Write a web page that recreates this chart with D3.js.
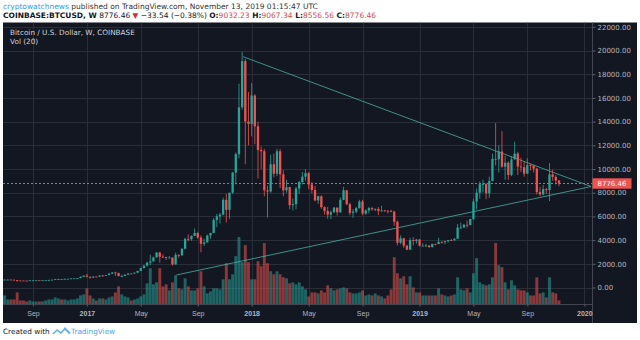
<!DOCTYPE html>
<html><head><meta charset="utf-8">
<script src="https://cdn.jsdelivr.net/npm/d3@7"></script>
<style>
html,body{margin:0;padding:0;background:#ffffff;}
svg{display:block;font-family:"DejaVu Sans",sans-serif;}
</style>
</head><body>
<svg id="chart" width="640" height="340"></svg>
<script>
// ---------- DATA (weekly candles: [open, high, low, close, volume (K BTC)]) ----------
const firstWeek = "2016-07-04";
const lastWeek  = "2019-11-11";

const candles2016 = [
 [650,680,630,660,45],[660,685,645,665,25],[665,680,650,655,25],[655,660,620,625,25],
 [625,630,480,590,60],[590,600,575,585,20],[585,590,565,580,20],[580,585,565,573,15],
 [573,610,565,605,20],[605,630,600,608,15],[608,612,600,610,15],[610,612,590,600,15],
 [600,620,598,612,15],[612,620,605,617,20],[617,645,612,640,25],[640,660,628,655,25],
 [655,705,650,700,35],[700,745,690,705,30],[705,720,690,700,25],[700,755,695,730,25],
 [730,745,725,735,20],[735,770,730,765,25],[765,775,755,775,25],[775,795,770,790,30],
 [790,935,790,900,45],[900,1000,880,1000,50]
];
const candles2017 = [
 [1000,1150,850,910,80],[910,915,750,830,45],[830,930,830,920,30],[920,925,880,915,20],
 [915,1040,915,1010,30],[1010,1065,920,1000,30],[1000,1060,990,1050,25],[1050,1195,1050,1170,35],
 [1170,1290,1130,1270,40],[1270,1330,975,1230,60],[1230,1240,940,965,90],[965,1080,890,970,50],
 [970,1100,960,1080,40],[1080,1200,1070,1180,35],[1180,1210,1160,1175,20],[1175,1260,1170,1250,25],
 [1250,1400,1240,1400,30],[1400,1660,1400,1650,40],[1650,1860,1600,1850,50],[1850,2170,1770,2100,105],
 [2100,2790,1900,2200,180],[2200,2600,2200,2540,100],[2540,2980,2530,2950,110],[2950,3000,2100,2600,180],
 [2600,2800,2500,2560,90],[2560,2600,2320,2500,100],[2500,2660,2500,2520,70],[2520,2550,1840,1950,110],
 [1950,2930,1930,2750,145],[2750,2800,2500,2730,80],[2730,3300,2650,3270,75],[3270,4200,3270,4100,130],
 [4100,4480,3900,4080,90],[4080,4380,3950,4360,70],[4360,4980,4330,4600,70],[4600,4700,4100,4220,80],
 [4220,4400,2970,3690,165],[3690,4120,3500,3800,90],[3800,4460,3800,4390,55],[4390,4620,4120,4600,65],
 [4600,5850,4600,5700,80],[5700,6200,5100,6000,80],[6000,6300,5400,6150,75],[6150,7600,6100,7400,125],
 [7400,7900,5500,6550,205],[6550,8000,5800,8000,125],[8000,9750,7900,9700,150],[9700,11400,8700,11250,240],
 [11250,17200,10900,15200,335],[15200,19890,15000,19100,210],[19100,19300,10400,14000,295],[14000,16500,12000,13800,210]
];
const candles2018 = [
 [13800,17250,12750,16200,125],[16200,16300,12100,13600,125],[13600,14000,9200,11600,215],[11600,11900,10000,11500,190],
 [11500,11700,7700,8200,305],[8200,8600,5900,8100,205],[8100,11200,8000,10400,165],[10400,11300,9300,9600,150],
 [9600,11700,9400,11500,165],[11500,11700,8400,9550,150],[9550,9900,7700,8200,135],[8200,9100,8000,8470,130],
 [8470,8500,6600,6950,105],[6950,7500,6500,7030,110],[7030,8500,6600,8350,100],[8350,9000,7900,8900,110],
 [8900,9750,8700,9350,90],[9350,9980,9000,9650,75],[9650,9750,8300,8700,40],[8700,8900,7950,8230,60],
 [8230,8580,7270,7350,60],[7350,7750,7050,7700,55],[7700,7780,6640,6780,70],[6780,6850,6150,6460,60],
 [6460,6800,5800,6150,95],[6150,6500,5770,6350,80],[6350,6800,6300,6740,70],[6740,6750,6070,6350,75],
 [6350,7600,6300,7400,80],[7400,8500,7400,8200,85],[8200,8200,6950,7030,80],[7030,7150,6100,6300,60],
 [6300,6620,5880,6400,55],[6400,6800,6260,6700,55],[6700,7400,6650,7260,60],[7260,7400,6100,6240,70],
 [6240,6600,6130,6500,45],[6500,6800,6250,6700,50],[6700,6800,6470,6600,45],[6600,6680,6450,6630,55],
 [6630,6780,6100,6460,45],[6460,6900,6400,6500,40],[6500,6550,6400,6480,30],[6480,6510,6250,6470,45],
 [6470,6550,6350,6400,75],[6400,6480,5200,5550,235],[5550,5650,3550,3780,155],[3780,4400,3650,4150,130],
 [4150,4200,3350,3530,140],[3530,3600,3150,3200,100],[3200,4200,3170,4000,140],[4000,4250,3550,3920,85],
 [3920,4100,3700,4050,60]
];
const candles2019 = [
 [4050,4100,3450,3530,60],[3530,3740,3500,3530,45],[3530,3680,3450,3540,45],[3540,3580,3350,3410,45],
 [3410,3700,3380,3680,45],[3680,3700,3560,3670,45],[3670,4200,3650,3850,80],[3850,3900,3700,3820,50],
 [3820,3950,3650,3900,45],[3900,4000,3800,3990,40],[3990,4100,3920,3985,45],[3985,4150,3940,4110,50],
 [4110,5350,4100,5050,135],[5050,5470,4950,5070,75],[5070,5370,5000,5290,70],[5290,5650,5050,5280,80],
 [5280,5800,5250,5780,60],[5780,7500,5680,7250,155],[7250,8350,6600,8000,230],[8000,8950,7500,8720,110],
 [8720,9100,8030,8730,100],[8730,8800,7450,7950,95],[7950,9350,7550,8990,100],[8990,11300,8980,10850,135],
 [10850,13880,10300,10820,305],[10820,12000,9700,11480,195],[11480,13200,10100,10200,185],[10200,11100,9100,10530,110],
 [10530,10650,9100,9500,75],[9500,11100,9400,10810,120],[10810,12300,10800,11300,95],[11300,11450,9500,10200,75],
 [10200,10950,9750,10150,70],[10150,10650,9350,9600,70],[9600,10900,9600,10330,60],[10330,10450,9880,10300,45],
 [10300,10350,9700,10030,45],[10030,10100,7850,8050,135],[8050,8500,7700,7860,55],[7860,8650,7780,8300,60],
 [8300,8400,7900,8220,35],[8220,10500,7300,9550,135],[9550,9950,9000,9330,60],[9330,9480,8700,9032.23,55],
 [9032.23,9067.34,8556.56,8776.46,20]
];

const priceTicks = [0,2000,4000,6000,8000,10000,12000,14000,16000,18000,20000,22000];
const timeTickDates  = ["2016-09-05","2017-01-02","2017-05-01","2017-09-04","2018-01-01","2018-05-07","2018-09-03","2019-01-07","2019-05-06","2019-09-02","2020-01-06"];
const timeTickLabels = ["Sep","2017","May","Sep","2018","May","Sep","2019","May","Sep","2020"];

const trendUpper = [["2017-12-13",19480],["2020-01-21",8520]];
const trendLower = [["2017-07-19",1055],["2020-01-21",8520]];
const lastPrice = 8776.46;

// ---------- SETUP ----------
const parse = d3.utcParse("%Y-%m-%d");
const allCandles = [].concat(candles2016, candles2017, candles2018, candles2019);
const start = parse(firstWeek);
const bars = allCandles.map((c,i)=>({date:d3.utcWeek.offset(start,i),o:c[0],h:c[1],l:c[2],c:c[3],v:c[4]}));

const UP="#26a69a", DOWN="#ef5350", BG="#131722", GRID="#2a2e39", AXIS_TXT="#b2b5be";
const paneL=3, paneR=592.5, paneT=22.5, paneB=304.5, outerR=637, outerB=323;

const svg = d3.select("#chart");
const x = d3.scaleUtc().domain([parse(firstWeek), parse(lastWeek)]).range([4.5, 559]);
const y = d3.scaleLinear().domain([0,20000]).range([287.5, 50.5]);
const yv = d3.scaleLinear().domain([0,340]).range([paneB, 236]);

// background
svg.append("rect").attr("x",paneL).attr("y",paneT).attr("width",outerR-paneL).attr("height",outerB-paneT).attr("fill",BG);

// clip
svg.append("clipPath").attr("id","pane").append("rect")
  .attr("x",paneL).attr("y",paneT).attr("width",paneR-paneL).attr("height",paneB-paneT);

// grid
const grid = svg.append("g");
grid.selectAll("line.h").data(priceTicks).join("line")
  .attr("x1",paneL).attr("x2",paneR).attr("y1",d=>Math.round(y(d))+0.5).attr("y2",d=>Math.round(y(d))+0.5)
  .attr("stroke",GRID).attr("stroke-width",1);
grid.selectAll("line.v").data(timeTickDates).join("line")
  .attr("x1",d=>Math.round(x(parse(d)))+0.5).attr("x2",d=>Math.round(x(parse(d)))+0.5)
  .attr("y1",paneT).attr("y2",paneB).attr("stroke",GRID).attr("stroke-width",1)
  .attr("clip-path","url(#pane)");

const plot = svg.append("g").attr("clip-path","url(#pane)");

// volume
plot.selectAll("rect.vol").data(bars).join("rect")
  .attr("x",d=>x(d.date)-1.45).attr("width",2.9)
  .attr("y",d=>yv(d.v)).attr("height",d=>paneB-yv(d.v))
  .attr("fill",d=>d.c>=d.o?UP:DOWN).attr("fill-opacity",0.55);

// last price dotted line
const lpY = Math.round(y(lastPrice))+0.5;
plot.append("line").attr("x1",paneL).attr("x2",paneR)
  .attr("y1",lpY).attr("y2",lpY)
  .attr("stroke",DOWN).attr("stroke-width",1).attr("stroke-dasharray","2,2")
  .attr("shape-rendering","crispEdges");

// trend lines
[trendUpper,trendLower].forEach(t=>{
  plot.append("line")
    .attr("x1",x(parse(t[0][0]))).attr("y1",y(t[0][1]))
    .attr("x2",x(parse(t[1][0]))).attr("y2",y(t[1][1]))
    .attr("stroke","#4db6ac").attr("stroke-width",0.9).attr("stroke-opacity",0.85);
});

// candles
const cg = plot.selectAll("g.c").data(bars).join("g");
cg.append("line").attr("x1",d=>x(d.date)).attr("x2",d=>x(d.date))
  .attr("y1",d=>y(d.h)).attr("y2",d=>y(d.l))
  .attr("stroke",d=>d.c>=d.o?UP:DOWN).attr("stroke-width",0.8);
cg.append("rect").attr("x",d=>x(d.date)-1.15).attr("width",2.3)
  .attr("y",d=>y(Math.max(d.o,d.c))).attr("height",d=>Math.max(0.8,Math.abs(y(d.o)-y(d.c))))
  .attr("fill",d=>d.c>=d.o?UP:DOWN);

// axes borders
svg.append("line").attr("x1",paneR).attr("x2",paneR).attr("y1",paneT).attr("y2",outerB)
  .attr("stroke","#434651").attr("stroke-width",1);
svg.append("line").attr("x1",paneL).attr("x2",paneR).attr("y1",paneB).attr("y2",paneB)
  .attr("stroke","#434651").attr("stroke-width",1);

// price axis
const yAxis = d3.axisRight(y).tickValues(priceTicks).tickSize(3).tickPadding(2).tickFormat(d3.format(".2f"));
const ya = svg.append("g").attr("transform",`translate(${paneR},0)`).call(yAxis);
ya.select(".domain").remove();
ya.selectAll("line").attr("stroke","#5d606b");
ya.selectAll("text").attr("fill",AXIS_TXT).attr("font-size","7px").attr("font-family","DejaVu Sans");

// last price label
const lp = svg.append("g");
lp.append("rect").attr("x",paneR).attr("y",lpY-5.2).attr("width",39).attr("height",10.4).attr("fill",DOWN);
lp.append("text").attr("x",paneR+5).attr("y",lpY+2.6).text(d3.format(".2f")(lastPrice))
  .attr("fill","#ffffff").attr("font-size","7px");

// time axis
const xAxis = d3.axisBottom(x).tickValues(timeTickDates.map(parse)).tickSize(2).tickPadding(5)
  .tickFormat((d,i)=>timeTickLabels[i]);
const xa = svg.append("g").attr("transform",`translate(0,${paneB})`).call(xAxis);
xa.select(".domain").remove();
xa.selectAll("line").attr("stroke","#5d606b");
xa.selectAll("text").attr("fill",AXIS_TXT).attr("font-size","7px")
  .attr("font-weight",(d,i)=>/^\d{4}$/.test(timeTickLabels[i])?"bold":"normal");
// hide part of 2020 label behind price axis
svg.append("rect").attr("x",paneR+0.5).attr("y",paneB+1).attr("width",outerR-paneR-0.5).attr("height",outerB-paneB-1).attr("fill",BG);

// legends inside pane
svg.append("text").attr("x",10).attr("y",35).attr("fill","#d1d4dc").attr("font-size","7.3px")
  .text("Bitcoin / U.S. Dollar, W, COINBASE");
svg.append("text").attr("x",10).attr("y",43.5).attr("fill","#d1d4dc").attr("font-size","7.3px")
  .text("Vol (20)");

// header
const h1 = svg.append("text").attr("x",3).attr("y",8.6).attr("font-size","7.5px").attr("fill","#333");
h1.append("tspan").attr("fill","#2a9df4").text("cryptowatchnews");
h1.append("tspan").text(" published on TradingView.com, November 13, 2019 01:15:47 UTC");
const h2 = svg.append("text").attr("x",3).attr("y",17.6).attr("font-size","7.5px").attr("fill","#131722");
h2.append("tspan").attr("font-weight","bold").text("COINBASE:BTCUSD, W");
h2.append("tspan").text(" 8776.46 ");
h2.append("tspan").attr("fill","#d32f2f").text("▼");
h2.append("tspan").text(" −33.54 (−0.38%) ");
const ohlc = [["O:","9032.23"],["H:","9067.34"],["L:","8556.56"],["C:","8776.46"]];
ohlc.forEach((p,i)=>{
  h2.append("tspan").attr("font-weight","bold").text((i?" ":"")+p[0]);
  h2.append("tspan").attr("fill","#d4474e").text(p[1]);
});

// footer
svg.append("text").attr("x",3).attr("y",333.5).attr("font-size","7.3px").attr("fill","#131722").text("Created with");
const logo = svg.append("g").attr("transform","translate(52,327)");
logo.append("path").attr("d","M0,7 L5,2 L9,5 L13,0 L19,6 L17,7 L13,3 L9,7 L5,4 L2,7 Z").attr("fill","#5cb3f0");
svg.append("text").attr("x",71).attr("y",333.5).attr("font-size","7.3px").attr("fill","#4aa3e8").text("TradingView");
</script>
</body></html>
